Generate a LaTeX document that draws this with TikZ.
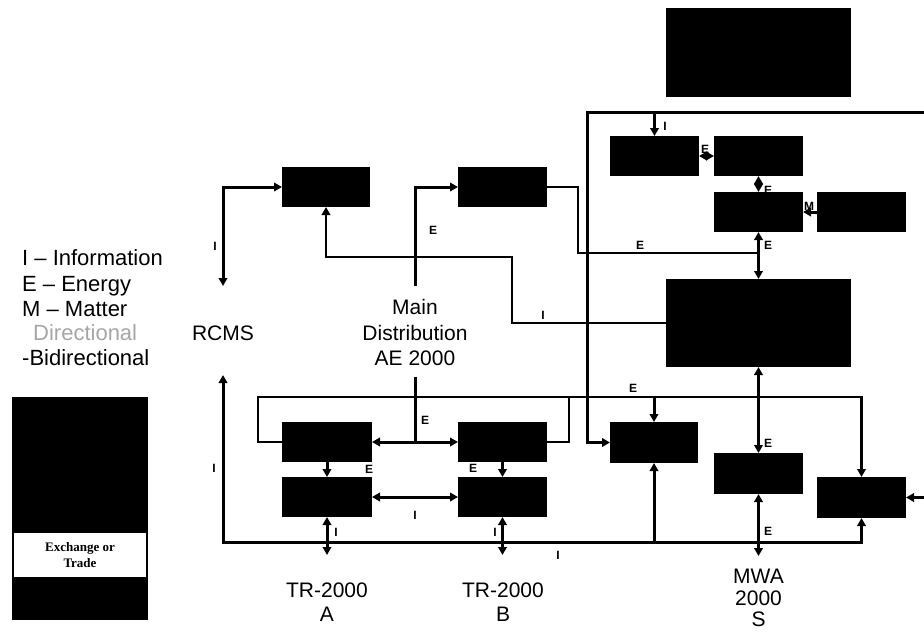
\documentclass[tikz,border=0pt]{standalone}
\usepackage{fontspec}
\setmainfont{Liberation Sans}
\newfontfamily\timesb{Liberation Serif}
\usetikzlibrary{arrows.meta}
\begin{document}
\begin{tikzpicture}[x=1pt,y=-1pt,
  >={Triangle[length=8pt,width=8.5pt]},
  blk/.style={fill=black,draw=none,inner sep=0pt,outer sep=0pt,rectangle},
  wire/.style={line width=3pt,line join=miter},
  wirethin/.style={line width=2.3pt,line join=miter},
  lab/.style={font=\bfseries\fontsize{12}{12}\selectfont,inner sep=0pt},
  txt/.style={font=\fontsize{21}{21}\selectfont,inner sep=0pt,anchor=base},
  leg/.style={font=\fontsize{22}{22}\selectfont,inner sep=0pt,anchor=base west}]
\useasboundingbox (0,0) rectangle (924,635);

% label partly hidden by box below
\node[lab] (lE2) at (768,190) {E};

% boxes
\node[blk,minimum width=185pt,minimum height=89pt] (top) at (758.5,52.5) {};
\node[blk,minimum width=88pt,minimum height=40pt] (b1) at (326,187) {};
\node[blk,minimum width=89pt,minimum height=40pt] (b2) at (502.5,187) {};
\node[blk,minimum width=89pt,minimum height=40pt] (ur1) at (654.5,156) {};
\node[blk,minimum width=89pt,minimum height=40pt] (ur2) at (758.5,156) {};
\node[blk,minimum width=89pt,minimum height=40pt] (ur3) at (758.5,212) {};
\node[blk,minimum width=89pt,minimum height=40pt] (ur4) at (861.5,212) {};
\node[blk,minimum width=185pt,minimum height=88pt] (big) at (758.5,323) {};
\node[blk,minimum width=90pt,minimum height=40pt] (b3) at (327,442) {};
\node[blk,minimum width=89pt,minimum height=40pt] (b4) at (502.5,442) {};
\node[blk,minimum width=90pt,minimum height=40pt] (b5) at (327,497) {};
\node[blk,minimum width=89pt,minimum height=40pt] (b6) at (502.5,497) {};
\node[blk,minimum width=88pt,minimum height=41pt] (cb) at (654,442.5) {};
\node[blk,minimum width=89pt,minimum height=41pt] (mwa) at (758.5,473.5) {};
\node[blk,minimum width=89pt,minimum height=41pt] (rb) at (861.5,497.5) {};

% legend
\node[leg] (l1) at (22,265) {I – Information};
\node[leg] (l2) at (22,291) {E – Energy};
\node[leg] (l3) at (22,316) {M – Matter};
\node[leg,text=black!35] (l4) at (33,340) {Directional};
\node[leg] (l5) at (22,365) {-Bidirectional};
\node[blk,minimum width=136pt,minimum height=223pt] (legbox) at (80,508.5) {};
\node[fill=white,inner sep=0pt,outer sep=0pt,minimum width=132pt,minimum height=44pt] (band) at (80,555) {};
\node[font=\timesb\bfseries\fontsize{13}{16}\selectfont,align=center,inner sep=0pt] (exch) at (band) {Exchange or\\Trade};

% connectors
\coordinate (rcmsEnd) at (223,286);
\draw[wire,<->] (rcmsEnd) |- (b1.west);
\draw[wirethin,->] (big.west) -- (512,323) |- (326,257) -- (b1.south);
\coordinate (md1) at (415,286);
\draw[wire,->] (md1) |- (b2.west);
\coordinate (md2) at (415,377);
\draw[wire] (md2) -- (415,442);
\draw[wire,<->] (b3.east) -- (b4.west);
\draw[wirethin] (b2.east) -- (578,187) -- (578,253) -- (758.5,253);
\draw[wire,<->] (ur3.south) -- (big.north);
\coordinate (topR) at (924,112);
\draw[wire,->] (topR) -- (587,112) -- (587,442.5) -- (cb.west);
\draw[wire,->] (654.5,112) -- (ur1.north);
\draw[wire,<->] (ur1.east) -- (ur2.west);
\draw[wire,<->] (ur2.south) -- (ur3.north);
\draw[wire,->] (ur4.west) -- (ur3.east);
\draw[wire,<->] (big.south) -- (mwa.north);
\coordinate (mwaEnd) at (758.5,556);
\draw[wire,<->] (mwa.south) -- (mwaEnd);
\draw[wirethin,->] (b3.west) -- (258,442) -- (258,397) -| (rb.north);
\draw[wirethin] (b4.east) -- (569,442) -- (569,397);
\draw[wire,->] (654,397) -- (cb.north);
\coordinate (iTop) at (223,375);
\draw[wire,<->] (iTop) -- (223,542) -| (rb.south);
\draw[wire,->] (654,542) -- (cb.south);
\draw[wire,->] (b3.south) -- (b5.north);
\draw[wire,->] (b4.south) -- (b6.north);
\draw[wire,<->] (b5.east) -- (b6.west);
\coordinate (trA) at (327,555);
\draw[wire,<->] (b5.south) -- (trA);
\coordinate (trB) at (502.5,555);
\draw[wire,<->] (b6.south) -- (trB);
\coordinate (rIn) at (924,497.5);
\draw[wire,->] (rIn) -- (rb.east);

% small labels
\node[lab] (lI1) at (215,246) {I};
\node[lab] (lI2) at (214,468) {I};
\node[lab] (lE1) at (433,230) {E};
\node[lab] (lE3) at (425,420) {E};
\node[lab] (lE4) at (640,245) {E};
\node[lab] (lI3) at (543,315) {I};
\node[lab] (lI4) at (665,126) {I};
\node[lab] (lE5) at (705,149) {E};
\node[lab] (lM) at (809,206) {M};
\node[lab] (lE6) at (768,245) {E};
\node[lab] (lE7) at (633,388) {E};
\node[lab] (lE8) at (768,443) {E};
\node[lab] (lE9) at (768,531) {E};
\node[lab] (lE10) at (369,469) {E};
\node[lab] (lE11) at (473,468) {E};
\node[lab] (lI5) at (415,515) {I};
\node[lab] (lI6) at (336,532) {I};
\node[lab] (lI7) at (495,532) {I};
\node[lab] (lI8) at (558,555) {I};

% big texts
\node[txt] (rcms) at (223,340) {RCMS};
\node[txt] (mdA) at (415,314) {Main};
\node[txt] (mdB) at (415,340) {Distribution};
\node[txt] (mdC) at (415,365) {AE 2000};
\node[txt] (trA1) at (327,597) {TR-2000};
\node[txt] (trA2) at (327,621) {A};
\node[txt] (trB1) at (503,597) {TR-2000};
\node[txt] (trB2) at (503,621) {B};
\node[txt] (mw1) at (758.5,583) {MWA};
\node[txt] (mw2) at (758.5,605) {2000};
\node[txt] (mw3) at (758.5,626) {S};
\end{tikzpicture}
\end{document}
